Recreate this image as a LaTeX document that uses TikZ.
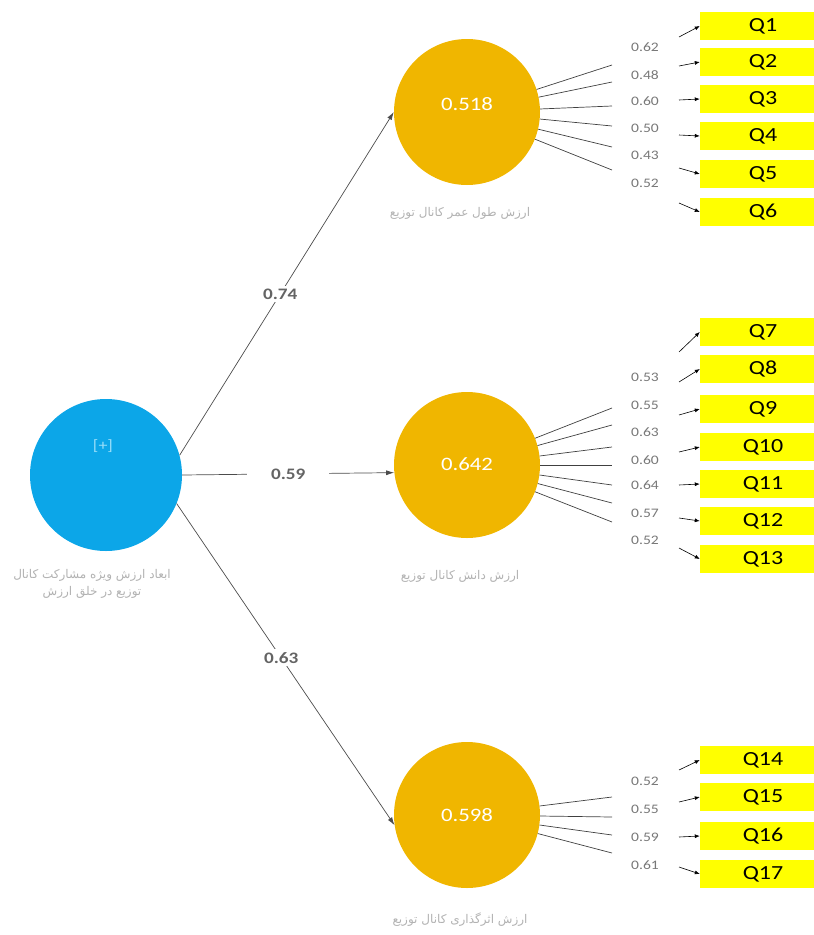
\documentclass[tikz,border=0pt]{standalone}
\usepackage{fontspec}
\setmainfont{Carlito}[FakeStretch=1.2]
\newfontfamily\arabicfont[Script=Arabic]{DejaVu Sans}
\TeXXeTstate=1
\usetikzlibrary{arrows.meta,positioning}
\definecolor{lvblue}{RGB}{12,166,232}
\definecolor{lvorange}{RGB}{240,182,0}
\definecolor{qyellow}{RGB}{255,255,0}
\definecolor{wgray}{RGB}{100,100,100}
\definecolor{lgray}{RGB}{120,120,120}
\tikzset{
	construct/.style={circle,fill=lvorange,minimum size=146pt,inner sep=0pt},
	second/.style={circle,fill=lvblue,minimum size=152pt,inner sep=0pt},
	qbox/.style={fill=qyellow,minimum width=126pt,minimum height=28pt,inner sep=0pt,font=\fontsize{20}{22}\selectfont},
	path coef/.style={fill=white,font=\bfseries\fontsize{16}{18}\selectfont,text=wgray,inner sep=3pt},
	loading/.style={font=\fontsize{13}{15}\selectfont,text=lgray},
	value/.style={font=\fontsize{19}{21}\selectfont,text=white},
	lvname/.style={font=\arabicfont\fontsize{12}{17}\selectfont,text=gray!60,align=center},
	spoke/.style={draw=black!75,line width=0.7pt},
	tip/.style={draw=black,line width=0.6pt,-{Latex[length=5pt,width=4pt]}},
	inner/.style={draw=black!70,line width=0.7pt,-{Latex[length=8pt,width=5pt]}}
}
\begin{document}
\begin{tikzpicture}[x=1pt,y=-1pt]
	\useasboundingbox (0,0) rectangle (814,935);
	\clip (0,0) rectangle (814,935);
	
	% latent variables
	\node[second]    (B)  at (106,475) {};
	\node[text=cyan!40,font=\fontsize{15}{17}\selectfont] (plus) at (103,446) {[+]};
	\node[construct] (T)  at (467,112) {};
	\node[construct] (M)  at (467,465) {};
	\node[construct] (Bo) at (467,815) {};
	\node[value] at (467,104) {0.518};
	\node[value] at (467,464) {0.642};
	\node[value] at (467,815) {0.598};
	
	\node[lvname] (nB)  at (92,584) {\beginR ابعاد ارزش ویژه مشارکت کانال\endR\\\beginR توزیع در خلق ارزش\endR};
	\node[lvname] (nT)  at (460,213) {\beginR ارزش طول عمر کانال توزیع\endR};
	\node[lvname] (nM)  at (460,576) {\beginR ارزش دانش کانال توزیع\endR};
	\node[lvname] (nBo) at (460,920) {\beginR ارزش اثرگذاری کانال توزیع\endR};
	
	% structural paths
	\draw[inner] (B.15) -- node[path coef,pos=0.47] {0.74} (T.west);
	\draw[inner] (B.east) -- node[path coef,pos=0.5,minimum width=82pt] {0.59} (M.186);
	\draw[inner] (B.-22) -- node[path coef,pos=0.48] {0.63} (Bo.188);
	
	% indicators
	\foreach \q/\sy/\ly/\v/\ay/\by in {1/65/47/0.62/37/26,2/82/75/0.48/66/62,3/106/101/0.60/100/99,
		4/126/128/0.50/135/136,5/147/155/0.43/168/174,6/170/183/0.52/203/212}{
		\node[qbox] (Q\q) at (763,\by) {Q\q};
		\coordinate (s\q) at (612,\sy);
		\draw[spoke] (T) -- (s\q);
		\node[loading] (l\q) at (645,\ly) {\v};
		\coordinate (a\q) at (679,\ay);
		\draw[tip] (a\q) -- (Q\q.west);
	}
	\foreach \q/\sy/\ly/\v/\ay/\by in {7/408/377/0.53/352/332,8/425/405/0.55/382/369,9/447/432/0.63/415/409,
		10/465/460/0.60/452/447,11/485/485/0.64/485/484,12/503/513/0.57/518/521,13/522/540/0.52/548/559}{
		\node[qbox] (Q\q) at (763,\by) {Q\q};
		\coordinate (s\q) at (612,\sy);
		\draw[spoke] (M) -- (s\q);
		\node[loading] (l\q) at (645,\ly) {\v};
		\coordinate (a\q) at (679,\ay);
		\draw[tip] (a\q) -- (Q\q.west);
	}
	\foreach \q/\sy/\ly/\v/\ay/\by in {14/797/781/0.52/770/760,15/817/809/0.55/802/797,
		16/835/837/0.59/837/836,17/853/865/0.61/867/874}{
		\node[qbox] (Q\q) at (763,\by) {Q\q};
		\coordinate (s\q) at (612,\sy);
		\draw[spoke] (Bo) -- (s\q);
		\node[loading] (l\q) at (645,\ly) {\v};
		\coordinate (a\q) at (679,\ay);
		\draw[tip] (a\q) -- (Q\q.west);
	}
\end{tikzpicture}
\end{document}
